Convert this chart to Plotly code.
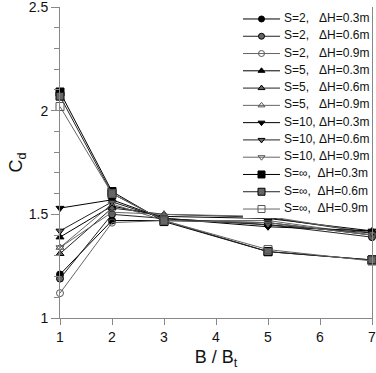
import plotly.graph_objects as go

x_ratio = [1, 2, 3, 5, 7]

labels = [
    "S=2,\u00a0\u00a0\u00a0ΔH=0.3m", "S=2,\u00a0\u00a0\u00a0ΔH=0.6m", "S=2,\u00a0\u00a0\u00a0ΔH=0.9m",
    "S=5,\u00a0\u00a0\u00a0ΔH=0.3m", "S=5,\u00a0\u00a0\u00a0ΔH=0.6m", "S=5,\u00a0\u00a0\u00a0ΔH=0.9m",
    "S=10,\u00a0ΔH=0.3m", "S=10,\u00a0ΔH=0.6m", "S=10,\u00a0ΔH=0.9m",
    "S=∞,\u00a0\u00a0ΔH=0.3m", "S=∞,\u00a0\u00a0ΔH=0.6m", "S=∞,\u00a0\u00a0ΔH=0.9m",
]

s2_h03 = [1.21, 1.47, 1.47, 1.46, 1.40]
s2_h06 = [1.19, 1.50, 1.48, 1.45, 1.39]
s2_h09 = [1.12, 1.46, 1.47, 1.47, 1.40]
s5_h03 = [1.39, 1.54, 1.49, 1.48, 1.42]
s5_h06 = [1.31, 1.53, 1.50, 1.485, 1.41]
s5_h09 = [1.34, 1.51, 1.50, 1.49, 1.41]
s10_h03 = [1.53, 1.57, 1.48, 1.44, 1.42]
s10_h06 = [1.42, 1.56, 1.48, 1.45, 1.41]
s10_h09 = [1.34, 1.55, 1.47, 1.46, 1.40]
sinf_h03 = [2.09, 1.61, 1.465, 1.32, 1.28]
sinf_h06 = [2.07, 1.60, 1.47, 1.32, 1.28]
sinf_h09 = [2.02, 1.60, 1.47, 1.33, 1.275]

series = [s2_h03, s2_h06, s2_h09, s5_h03, s5_h06, s5_h09,
          s10_h03, s10_h06, s10_h09, sinf_h03, sinf_h06, sinf_h09]

shapes_base = ["circle", "circle", "circle", "triangle-up", "triangle-up", "triangle-up",
               "triangle-down", "triangle-down", "triangle-down", "square", "square", "square"]
fill_kind = ["full", "half", "open"] * 4
line_cols = {"full": "#000000", "half": "#222222", "open": "#666666"}

# legend-key geometry (inset axis in pixel units)
KEY_LEN = 37
TEXT_X = 41

fig = go.Figure()
for i, (name, vals, shp, fk) in enumerate(zip(labels, series, shapes_base, fill_kind)):
    if fk == "full":
        sym, mcol, mline = shp, "#000000", "#000000"
    elif fk == "half":
        sym, mcol, mline = shp, "#666666", "#000000"
    else:
        sym, mcol, mline = shp + "-open", "#555555", "#555555"
    size = 8 if shp == "square" else 7
    fig.add_trace(go.Scatter(
        x=x_ratio, y=vals, name=name, mode="lines+markers",
        line=dict(color=line_cols[fk], width=1),
        marker=dict(symbol=sym, size=size, color=mcol, line=dict(color=mline, width=1)),
        cliponaxis=False, showlegend=False,
    ))
    # legend key: line with marker in the middle
    fig.add_trace(go.Scatter(
        x=[0, KEY_LEN], y=[i, i], mode="lines",
        line=dict(color=line_cols[fk], width=1),
        xaxis="x2", yaxis="y2", showlegend=False, hoverinfo="skip",
    ))
    fig.add_trace(go.Scatter(
        x=[KEY_LEN / 2], y=[i], mode="markers",
        marker=dict(symbol=sym, size=size - 1, color=mcol, line=dict(color=mline, width=1)),
        xaxis="x2", yaxis="y2", showlegend=False, hoverinfo="skip", cliponaxis=False,
    ))

fig.add_trace(go.Scatter(
    x=[TEXT_X] * len(labels), y=list(range(len(labels))), mode="text",
    text=labels, textposition="middle right",
    textfont=dict(size=12, color="#111111", family="Arial, Liberation Sans, sans-serif"),
    xaxis="x2", yaxis="y2", showlegend=False, hoverinfo="skip", cliponaxis=False,
))

fig.update_layout(
    width=376, height=373,
    margin=dict(l=60, r=4, t=7, b=55, autoexpand=False),
    paper_bgcolor="white", plot_bgcolor="white",
    font=dict(family="Arial, Liberation Sans, sans-serif", color="#111111"),
    showlegend=False,
    xaxis=dict(range=[1, 7], tickvals=[1, 2, 3, 4, 5, 6, 7],
               showgrid=False, zeroline=False, showline=True, linecolor="#888888",
               linewidth=1, ticks="outside", ticklen=6, tickcolor="#888888",
               tickfont=dict(size=14), automargin=False, ticklabeloverflow="allow",
               title=dict(text="B / B<sub>t</sub>", font=dict(size=18), standoff=6)),
    yaxis=dict(range=[1, 2.5], tickvals=[1, 1.5, 2, 2.5], ticktext=["1", "1.5", "2", "2.5"],
               showgrid=False, zeroline=False, showline=True, linecolor="#888888",
               linewidth=1, mirror=True, ticks="outside", ticklen=8, tickcolor="#888888",
               tickfont=dict(size=14), automargin=False, ticklabeloverflow="allow",
               minor=dict(dtick=0.1, ticks="outside", ticklen=5, tickcolor="#888888"),
               title=dict(text="C<sub>d</sub>", font=dict(size=18), standoff=1)),
    xaxis2=dict(domain=[(243 - 60) / 312, 1.0], range=[0, 129], visible=False,
                fixedrange=True),
    yaxis2=dict(domain=[(318 - 218) / 311, (318 - 10) / 311], range=[11.52, -0.52],
                visible=False, fixedrange=True),
)

fig.write_html(
    "out.html",
    config={"displayModeBar": False},
    post_script="document.body.style.margin='0';document.body.style.overflow='hidden';",
)
